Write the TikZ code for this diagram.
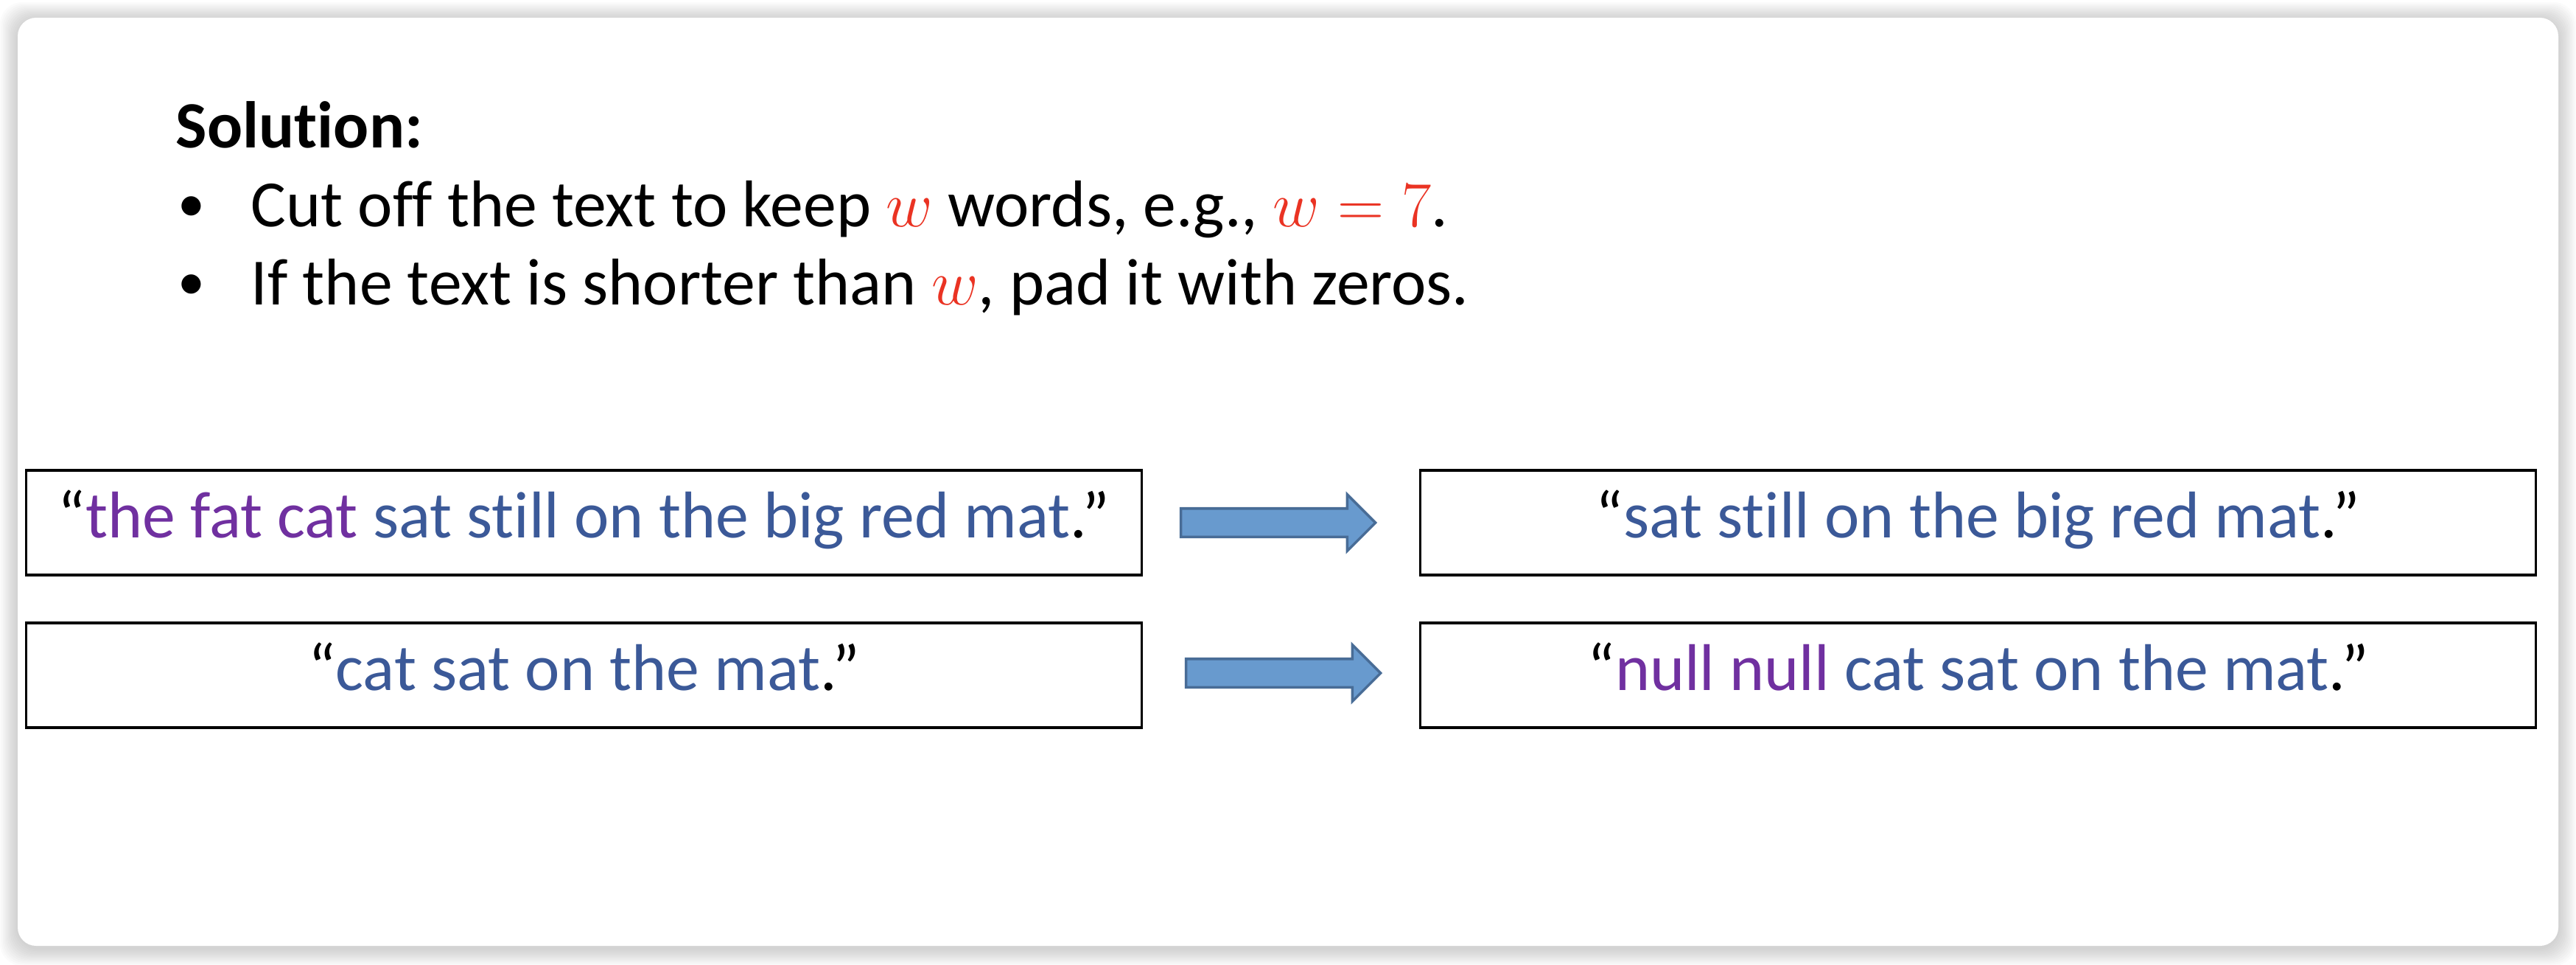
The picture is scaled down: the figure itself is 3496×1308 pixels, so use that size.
\documentclass[tikz,border=0pt]{standalone}
\usepackage{fontspec}
\setmainfont{Carlito}[Ligatures=NoCommon]
\usepackage{xcolor}
\usepackage{tikz}
\usetikzlibrary{
	shapes.arrows
}

\definecolor{wordblue}{RGB}{59,89,152}
\definecolor{wordpurple}{RGB}{112,48,160}
\definecolor{mathred}{RGB}{234,51,35}
\definecolor{arrowfill}{RGB}{104,154,206}
\definecolor{arrowdraw}{RGB}{72,108,150}

\newcommand{\bw}[1]{\textcolor{wordblue}{#1}}
\newcommand{\pw}[1]{\textcolor{wordpurple}{#1}}
\newcommand{\rw}[1]{\textcolor{mathred}{$#1$}}

\begin{document}
\begin{tikzpicture}[x=0.01cm,y=-0.01cm,
		every node/.style={font=\fontsize{25.5}{30}\selectfont},
		line/.style={anchor=base west,inner sep=0pt},
		textbox/.style={draw=black,line width=1pt,minimum width=15.13cm,
			minimum height=1.42cm,inner ysep=0pt,
			text height=0.6cm,text depth=0.2cm},
		blockarrow/.style={single arrow,draw=arrowdraw,fill=arrowfill,
			line width=1pt,minimum height=2.64cm,inner sep=0pt,
			text height=0.175cm,text depth=0.175cm,
			single arrow head extend=0.19cm}]
		\useasboundingbox (0,0) rectangle (3496,1308);

		% card with a soft shadow
		\foreach \g in {1,...,12}
			\fill[black,opacity=0.015,rounded corners=0.3cm]
				(24-2*\g,27-2*\g) rectangle (3472+2*\g,1286+2*\g);
		\fill[white,rounded corners=0.25cm] (24,24) rectangle (3472,1283);

		\node[line] at (238, 200) (solution)
			{\textbf{Solution:}};
		\node[line,font=\fontsize{21}{25}\selectfont] at (241, 300) (bullet-1)
			{\textbullet};
		\node[line] at (340, 307) (cut-off)
			{Cut off the text to keep \rw{w} words, e.g., \rw{w=7}.};
		\node[line,font=\fontsize{21}{25}\selectfont] at (241, 406) (bullet-2)
			{\textbullet};
		\node[line] at (340, 413) (pad-zeros)
			{If the text is shorter than \rw{w}, pad it with zeros.};

		\node[textbox] at (792.5, 709) (long-text)
			{“\pw{the fat cat} \bw{sat still on the big red mat}.”};
		\node[textbox] at (792.5, 916) (short-text)
			{“\bw{cat sat on the mat}.”};
		\node[textbox] at (2684.5, 709) (long-cut)
			{“\bw{sat still on the big red mat}.”};
		\node[textbox] at (2684.5, 916) (short-pad)
			{“\pw{null null} \bw{cat sat on the mat}.”};

		\node[blockarrow] at (1725, 709) (cut-arrow) {};
		\node[blockarrow] at (1732, 913) (pad-arrow) {};
	\end{tikzpicture}
\end{document}
